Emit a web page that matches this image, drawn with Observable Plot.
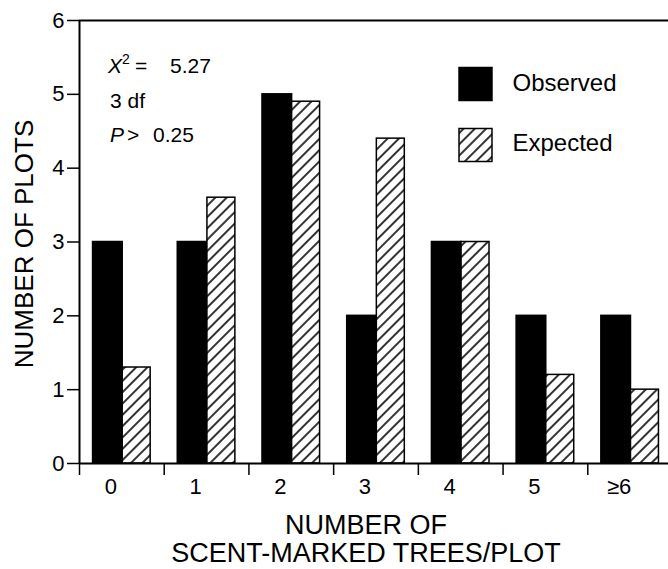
<!DOCTYPE html>
<html><head><meta charset="utf-8">
<script src="https://cdn.jsdelivr.net/npm/d3@7"></script>
<script src="https://cdn.jsdelivr.net/npm/@observablehq/plot@0.6"></script>
<style>body{margin:0;background:#fff;} svg{display:block}</style>
</head><body><div id="chart"></div>
<script>
const categories = ["0", "1", "2", "3", "4", "5", "≥6"];
const observed = [3, 3, 5, 2, 3, 2, 2];
const expected = [1.3, 3.6, 4.9, 4.4, 3.0, 1.2, 1.0];
const yTicks = [0, 1, 2, 3, 4, 5, 6];
const seriesNames = ["Observed", "Expected"];
const chiSquare = "5.27";
const degreesFreedom = "3 df";
const pValue = "0.25";
const xTitle = "NUMBER OF\nSCENT-MARKED TREES/PLOT";
const yTitle = "NUMBER OF PLOTS";

const rows = categories.map((c, i) => ({cat: c, i, observed: observed[i], expected: expected[i]}));
const boundaries = d3.range(categories.length + 1);
const FONT = "'Liberation Sans', Arial, Helvetica, sans-serif";

const plot = Plot.plot({
  width: 668, height: 569,
  marginLeft: 79, marginTop: 20, marginBottom: 106, marginRight: 0,
  style: {fontFamily: FONT, fontSize: "20px", color: "black", background: "white", overflow: "hidden"},
  x: {domain: [0, categories.length], range: [79, 672]},
  y: {domain: [0, 6], range: [463, 20]},
  marks: [
    Plot.rect(rows, {x1: d => d.i + 0.16, x2: d => d.i + 0.51, y1: 0, y2: "observed", fill: "black", stroke: "black", strokeWidth: 1.5}),
    Plot.rect(rows, {x1: d => d.i + 0.51, x2: d => d.i + 0.84, y1: 0, y2: "expected", fill: "url(#hatch)", stroke: "black", strokeWidth: 1.5}),
    Plot.ruleX([0], {strokeWidth: 2}),
    Plot.ruleY([0], {strokeWidth: 2}),
    Plot.ruleY([6], {strokeWidth: 2}),
    Plot.axisY(yTicks, {tickSize: 12, tickPadding: 3, fontSize: 22, label: null, strokeWidth: 1.5, tickFormat: "d"}),
    Plot.axisX(boundaries, {tickSize: 12, tickFormat: () => "", label: null, strokeWidth: 1.5}),
    Plot.text(rows, {x: d => d.i + 0.37, y: 0, text: "cat", lineAnchor: "bottom", dy: 30, fontSize: 22}),
    Plot.text([yTitle], {frameAnchor: "left", textAnchor: "middle", rotate: -90, dx: -55, dy: 2, fontSize: 26}),
    Plot.text([xTitle], {frameAnchor: "bottom", textAnchor: "middle", lineAnchor: "top", dy: 51, dx: -8, fontSize: 27, lineHeight: 1.03}),
    Plot.dot([seriesNames[0]], {frameAnchor: "top-left", dx: 396, dy: 63.5, symbol: "square", r: 18.6, fill: "black", stroke: "black", strokeWidth: 1.5}),
    Plot.dot([seriesNames[1]], {frameAnchor: "top-left", dx: 396, dy: 124.5, symbol: "square", r: 18.6, fill: "url(#hatch)", stroke: "black", strokeWidth: 1.5}),
    Plot.text([seriesNames[0]], {frameAnchor: "top-left", textAnchor: "start", lineAnchor: "bottom", dx: 433, dy: 70, fontSize: 24}),
    Plot.text([seriesNames[1]], {frameAnchor: "top-left", textAnchor: "start", lineAnchor: "bottom", dx: 433, dy: 130, fontSize: 24})
  ]
});

const svg = d3.select(plot);
const defs = svg.insert("defs", ":first-child");
const pat = defs.append("pattern").attr("id", "hatch").attr("patternUnits", "userSpaceOnUse")
  .attr("width", 8).attr("height", 8).attr("patternTransform", "rotate(45)");
pat.append("rect").attr("width", 8).attr("height", 8).attr("fill", "white");
pat.append("line").attr("x1", 4).attr("y1", -1).attr("x2", 4).attr("y2", 9).attr("stroke", "black").attr("stroke-width", 1.6);

const ann = svg.append("g").attr("font-size", 21).attr("fill", "black")
  .attr("font-family", FONT).attr("text-anchor", "start");
const t1 = ann.append("text").attr("x", 108).attr("y", 73);
t1.append("tspan").attr("font-style", "italic").text("X");
t1.append("tspan").attr("font-size", 14).attr("dy", -9).text("2");
t1.append("tspan").attr("x", 135).attr("dy", 9).text("=");
t1.append("tspan").attr("x", 170).text(chiSquare);
ann.append("text").attr("x", 110).attr("y", 108).text(degreesFreedom);
const t3 = ann.append("text").attr("x", 110).attr("y", 142);
t3.append("tspan").attr("font-style", "italic").text("P");
t3.append("tspan").attr("x", 127).text(">");
t3.append("tspan").attr("x", 153).text(pValue);

document.getElementById("chart").appendChild(plot);
</script>
</body></html>
